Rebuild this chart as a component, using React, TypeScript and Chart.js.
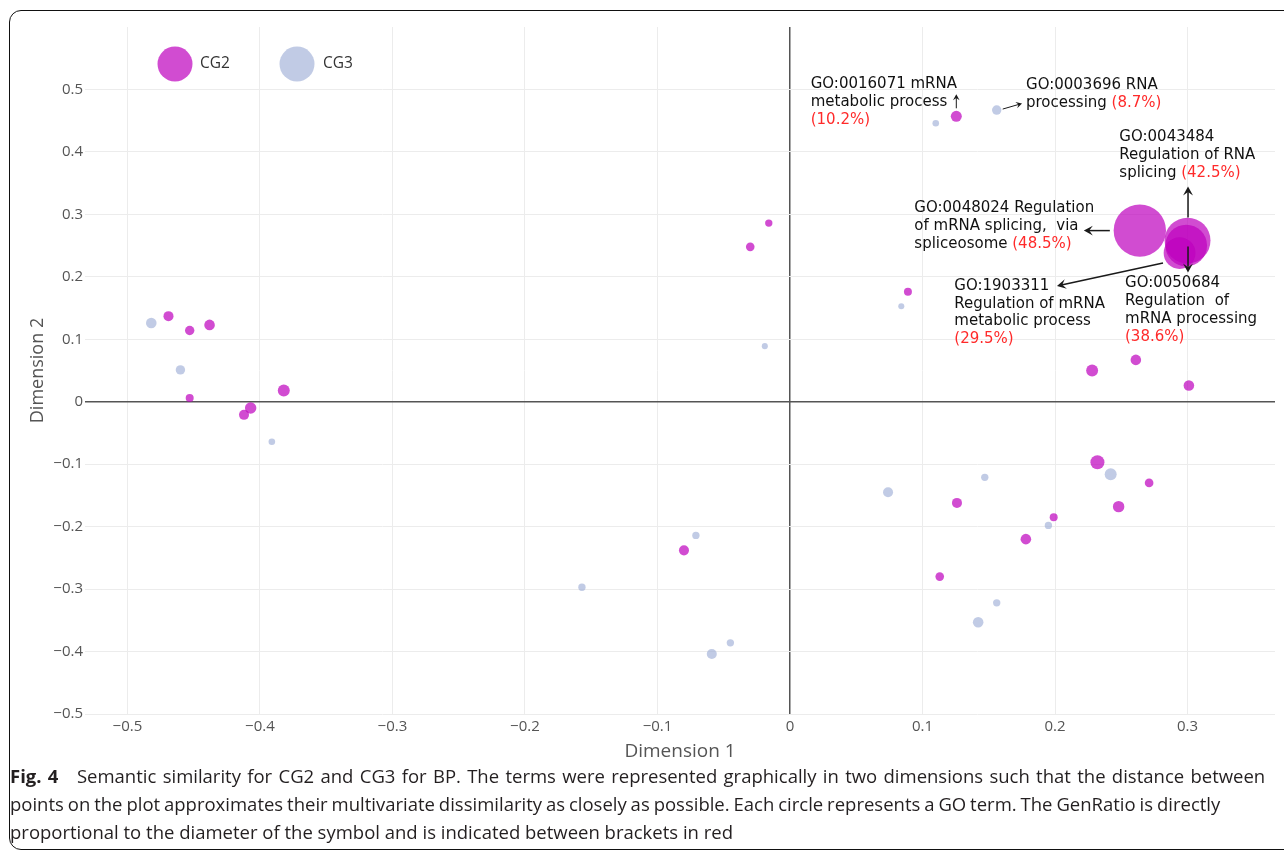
import React, { useEffect, useRef } from "react";
import { Chart, registerables } from "chart.js";

Chart.register(...registerables);

// ---------------- data ----------------
const SERIES_NAMES = ["CG2", "CG3"];

const CG2_X = [-0.469, -0.453, -0.438, -0.453, -0.412, -0.407, -0.382, -0.016, -0.03, 0.089, -0.08, 0.228, 0.261, 0.301, 0.232, 0.271, 0.248, 0.126, 0.199, 0.178, 0.113, 0.1255, 0.264, 0.3, 0.299, 0.294];
const CG2_Y = [0.137, 0.114, 0.123, 0.006, -0.021, -0.01, 0.018, 0.286, 0.248, 0.176, -0.238, 0.05, 0.067, 0.026, -0.097, -0.13, -0.168, -0.162, -0.185, -0.22, -0.28, 0.457, 0.274, 0.258, 0.25, 0.238];
const CG2_RATIO = [9.3, 8.7, 9.8, 7.4, 9.3, 10.6, 11.1, 6.8, 8.0, 7.4, 9.3, 11.1, 9.8, 9.8, 13.0, 8.0, 10.6, 9.3, 7.4, 9.8, 8.0, 10.2, 48.5, 42.5, 38.6, 29.5];

const CG3_X = [-0.482, -0.46, -0.391, -0.019, 0.084, 0.11, 0.156, -0.071, -0.157, -0.045, -0.059, 0.242, 0.074, 0.147, 0.195, 0.156, 0.142];
const CG3_Y = [0.126, 0.051, -0.064, 0.089, 0.153, 0.446, 0.467, -0.214, -0.297, -0.386, -0.404, -0.116, -0.145, -0.121, -0.198, -0.322, -0.353];
const CG3_RATIO = [9.8, 8.7, 6.1, 5.6, 5.6, 6.1, 8.7, 6.8, 6.8, 6.8, 9.3, 11.1, 9.3, 6.8, 6.8, 6.8, 9.8];

const X_TICKS = [-0.5, -0.4, -0.3, -0.2, -0.1, 0, 0.1, 0.2, 0.3];
const Y_TICKS = [-0.5, -0.4, -0.3, -0.2, -0.1, 0, 0.1, 0.2, 0.3, 0.4, 0.5];
const X_TITLE = "Dimension 1";
const Y_TITLE = "Dimension 2";

// annotated GO terms: series, point index, text lines; GenRatio appended from data
const ANNOTATIONS = [
  { series: 0, index: 21, lines: ["GO:0016071 mRNA", "metabolic process"], pctOwnLine: true },
  { series: 1, index: 6, lines: ["GO:0003696 RNA", "processing"], pctOwnLine: false },
  { series: 0, index: 22, lines: ["GO:0048024 Regulation", "of mRNA splicing,  via", "spliceosome"], pctOwnLine: false },
  { series: 0, index: 23, lines: ["GO:0043484", "Regulation of RNA", "splicing"], pctOwnLine: false },
  { series: 0, index: 24, lines: ["GO:0050684", "Regulation  of", "mRNA processing"], pctOwnLine: true },
  { series: 0, index: 25, lines: ["GO:1903311", "Regulation of mRNA", "metabolic process"], pctOwnLine: true },
];

const CAPTION_BOLD = "Fig. 4";
const CAPTION_LINES = [
  "Semantic similarity for CG2 and CG3 for BP. The terms were represented graphically in two dimensions such that the distance between",
  "points on the plot approximates their multivariate dissimilarity as closely as possible. Each circle represents a GO term. The GenRatio is directly",
  "proportional to the diameter of the symbol and is indicated between brackets in red",
];

// ---------------- styles / layout ----------------
const COLORS = ["rgba(190, 0, 190, 0.7)", "rgba(160, 175, 215, 0.65)"];
const RADIUS_PER_PCT = 0.54;
const X_MIN = -0.532, X_MAX = 0.366, Y_MIN = -0.5, Y_MAX = 0.6;
const CANVAS_W = 1284, CANVAS_H = 770;
const PLOT_LEFT = 85, PLOT_RIGHT = 1275, PLOT_TOP = 27, PLOT_BOTTOM = 714;
const TICK_FONT = { family: "'Open Sans', sans-serif", size: 15 };
const X_TITLE_FONT = { family: "'Open Sans', sans-serif", size: 19 };
const Y_TITLE_FONT = { family: "'Open Sans', sans-serif", size: 18 };
const ANN_FONT = "15px 'DejaVu Sans', sans-serif";
const ANN_LINE_H = 17.8;
const CAPTION_WORD_SPACING = ["1.5px", "-0.9px", "0px"];

// offsets (px) from the point centre: text left / first line centre, arrow start & end, head size
const ANN_LAYOUT = [
  { dx: -145.6, dy: -32, arrow: [0, -8, 0, -22], head: 6, lw: 1 },
  { dx: 29.3, dy: -25, arrow: [6, -1, 25.3, -6.6], head: 6, lw: 1 },
  { dx: -225.5, dy: -22, arrow: [-30, 0, -56, 0], head: 9, lw: 1.5 },
  { dx: -68.2, dy: -103, arrow: [0.5, -23, 0.5, -54], head: 9, lw: 1.5 },
  { dx: -61.2, dy: 38, arrow: [1.8, 1, 1.8, 27], head: 9, lw: 1.5 },
  { dx: -225.3, dy: 32.8, arrow: [-16.6, 10, -122.6, 32.8], head: 9, lw: 1.5 },
];

const LEGEND_LAYOUT = [
  { cx: 175, cy: 64, tx: 200 },
  { cx: 297, cy: 64, tx: 323 },
];

const fmt = (v: number) => (v === 0 ? "0" : (v < 0 ? "\u2212" : "") + Math.abs(v).toFixed(1));

function drawArrow(ctx: CanvasRenderingContext2D, sx: number, sy: number, ex: number, ey: number, head: number, lw: number) {
  const ang = Math.atan2(ey - sy, ex - sx);
  ctx.save();
  ctx.strokeStyle = "#1a1a1a";
  ctx.fillStyle = "#1a1a1a";
  ctx.lineWidth = lw;
  ctx.beginPath();
  ctx.moveTo(sx, sy);
  ctx.lineTo(ex - Math.cos(ang) * head * 0.5, ey - Math.sin(ang) * head * 0.5);
  ctx.stroke();
  ctx.translate(ex, ey);
  ctx.rotate(ang);
  ctx.beginPath();
  ctx.moveTo(0, 0);
  ctx.lineTo(-head, -head * 0.55);
  ctx.lineTo(-head * 0.6, 0);
  ctx.lineTo(-head, head * 0.55);
  ctx.closePath();
  ctx.fill();
  ctx.restore();
}

const overlayPlugin = {
  id: "overlay",
  afterDatasetsDraw(chart: any) {
    const ctx: CanvasRenderingContext2D = chart.ctx;
    const xs = chart.scales.x, ys = chart.scales.y;
    const seriesX = [CG2_X, CG3_X], seriesY = [CG2_Y, CG3_Y], seriesR = [CG2_RATIO, CG3_RATIO];
    ANNOTATIONS.forEach((a, i) => {
      const L = ANN_LAYOUT[i];
      const px = xs.getPixelForValue(seriesX[a.series][a.index]);
      const py = ys.getPixelForValue(seriesY[a.series][a.index]);
      const pct = "(" + seriesR[a.series][a.index].toFixed(1) + "%)";
      ctx.save();
      ctx.font = ANN_FONT;
      ctx.textBaseline = "middle";
      ctx.textAlign = "left";
      const x0 = px + L.dx;
      a.lines.forEach((line, k) => {
        const y = py + L.dy + k * ANN_LINE_H;
        ctx.fillStyle = "#111";
        ctx.fillText(line, x0, y);
        if (!a.pctOwnLine && k === a.lines.length - 1) {
          const w = ctx.measureText(line + " ").width;
          ctx.fillStyle = "#ff2a2a";
          ctx.fillText(pct, x0 + w, y);
        }
      });
      if (a.pctOwnLine) {
        ctx.fillStyle = "#ff2a2a";
        ctx.fillText(pct, x0, py + L.dy + a.lines.length * ANN_LINE_H);
      }
      ctx.restore();
      const [sx, sy, ex, ey] = L.arrow;
      drawArrow(ctx, px + sx, py + sy, px + ex, py + ey, L.head, L.lw);
    });
  },
  afterDraw(chart: any) {
    const ctx: CanvasRenderingContext2D = chart.ctx;
    ctx.save();
    SERIES_NAMES.forEach((name, i) => {
      const L = LEGEND_LAYOUT[i];
      ctx.beginPath();
      ctx.arc(L.cx, L.cy, 17.5, 0, Math.PI * 2);
      ctx.fillStyle = COLORS[i];
      ctx.fill();
      ctx.font = "15.5px 'Open Sans', sans-serif";
      ctx.fillStyle = "#333";
      ctx.textBaseline = "middle";
      ctx.textAlign = "left";
      ctx.fillText(name, L.tx, L.cy);
    });
    ctx.restore();
  },
};

export default function App() {
  const ref = useRef<HTMLCanvasElement | null>(null);

  useEffect(() => {
    if (!ref.current) return;
    const mk = (xs: number[], ys: number[]) => xs.map((x, i) => ({ x, y: ys[i] }));
    const ratios = [CG2_RATIO, CG3_RATIO];
    const gridColor = (c: any) => (c.tick && c.tick.value === 0 ? "#555" : "#ececec");
    const gridWidth = (c: any) => (c.tick && c.tick.value === 0 ? 1.5 : 1);
    const chart = new Chart(ref.current, {
      type: "scatter",
      data: {
        datasets: [
          { label: SERIES_NAMES[0], data: mk(CG2_X, CG2_Y) },
          { label: SERIES_NAMES[1], data: mk(CG3_X, CG3_Y) },
        ].map((d, i) => ({
          ...d,
          backgroundColor: COLORS[i],
          borderWidth: 0,
          pointRadius: (c: any) => ratios[i][c.dataIndex] * RADIUS_PER_PCT,
          pointHoverRadius: (c: any) => ratios[i][c.dataIndex] * RADIUS_PER_PCT,
        })),
      },
      options: {
        animation: false,
        responsive: false,
        devicePixelRatio: 1,
        layout: { autoPadding: false, padding: { left: 0, right: CANVAS_W - PLOT_RIGHT, top: PLOT_TOP, bottom: 0 } },
        plugins: { legend: { display: false }, tooltip: { enabled: false } },
        scales: {
          x: {
            type: "linear",
            min: X_MIN,
            max: X_MAX,
            afterBuildTicks: (s: any) => { s.ticks = X_TICKS.map((v) => ({ value: v })); },
            afterFit: (s: any) => { s.height = CANVAS_H - PLOT_BOTTOM; s.paddingLeft = 0; s.paddingRight = 0; },
            ticks: { callback: (v: any) => fmt(Number(v)), font: TICK_FONT, color: "#555", padding: 4, maxRotation: 0 },
            grid: { drawTicks: false, color: gridColor, lineWidth: gridWidth },
            border: { display: false },
            title: { display: true, text: X_TITLE, font: X_TITLE_FONT, color: "#555", padding: { top: 0, bottom: 7 } },
          },
          y: {
            type: "linear",
            min: Y_MIN,
            max: Y_MAX,
            afterBuildTicks: (s: any) => { s.ticks = Y_TICKS.map((v) => ({ value: v })); },
            afterFit: (s: any) => { s.width = PLOT_LEFT; s.paddingTop = 0; s.paddingBottom = 0; },
            ticks: { callback: (v: any) => fmt(Number(v)), font: TICK_FONT, color: "#555", padding: 2 },
            grid: { drawTicks: false, color: gridColor, lineWidth: gridWidth },
            border: { display: false },
            title: { display: true, text: Y_TITLE, font: Y_TITLE_FONT, color: "#555", padding: { top: 27, bottom: 0 } },
          },
        },
      } as any,
      plugins: [overlayPlugin],
    });
    return () => chart.destroy();
  }, []);

  return (
    <div style={{ position: "fixed", left: 0, top: 0, width: 1284, height: 850, background: "#fff", overflow: "hidden" }}>
      <canvas ref={ref} width={CANVAS_W} height={CANVAS_H} style={{ position: "absolute", left: 0, top: 0, width: CANVAS_W, height: CANVAS_H, display: "block" }} />
      <div
        style={{
          position: "absolute", left: 9, top: 10, width: 1300, height: 840,
          border: "1.5px solid #111", borderRadius: 12, boxSizing: "border-box", pointerEvents: "none",
        }}
      />
      <div
        style={{
          position: "absolute", left: 10, top: 762, width: 1274,
          fontFamily: "'Open Sans', sans-serif", fontSize: 18.5, lineHeight: "28px", color: "#231f20", whiteSpace: "nowrap",
        }}
      >
        {CAPTION_LINES.map((t, i) => (
          <div key={i} style={{ wordSpacing: CAPTION_WORD_SPACING[i] }}>
            {i === 0 ? <b>{CAPTION_BOLD}</b> : null}
            {i === 0 ? "\u2003" : null}
            {t}
          </div>
        ))}
      </div>
    </div>
  );
}
